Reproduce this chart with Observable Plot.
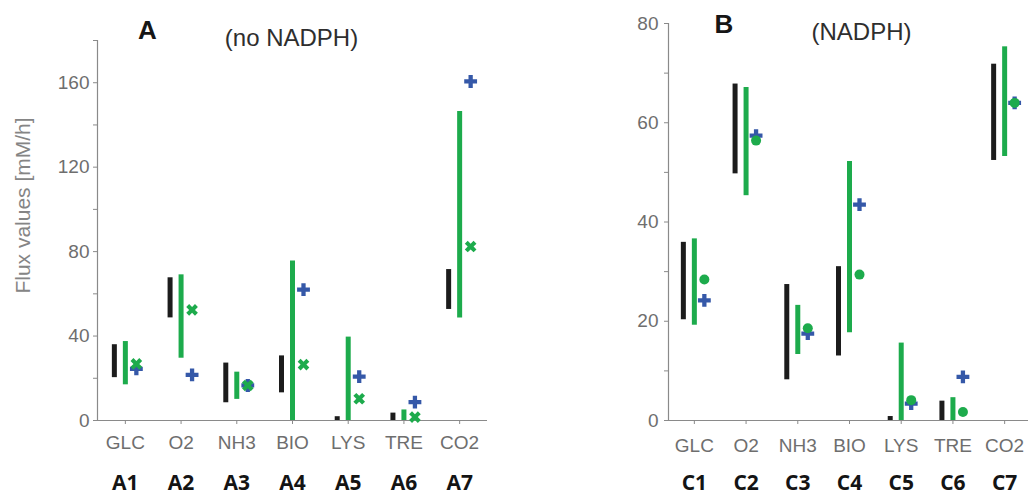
<!DOCTYPE html>
<html>
<head>
<meta charset="utf-8">
<script src="https://cdn.jsdelivr.net/npm/d3@7"></script>
<script src="https://cdn.jsdelivr.net/npm/@observablehq/plot@0.6"></script>
<style>
  html, body { margin: 0; padding: 0; background: #fff; overflow: hidden; }
  #root { position: relative; width: 1028px; height: 495px; overflow: hidden; }
  #root svg { position: absolute; top: 0; overflow: visible; }
</style>
</head>
<body>
<div id="root"></div>
<script>
// ---- data ----
const categories = ["GLC", "O2", "NH3", "BIO", "LYS", "TRE", "CO2"];
const labelsA = ["A1", "A2", "A3", "A4", "A5", "A6", "A7"];
const labelsB = ["C1", "C2", "C3", "C4", "C5", "C6", "C7"];

// Panel A (no NADPH)
const blackLoA = [20.3, 48.6, 8.4, 13.1, 0, 0, 52.6];
const blackHiA = [35.9, 67.6, 27.2, 30.6, 1.8, 3.5, 71.5];
const greenLoA = [16.9, 29.5, 10, 0, 0, 0, 48.6];
const greenHiA = [37.4, 69, 22.9, 75.5, 39.5, 5, 146.4];
const greenPtA = [26.8, 52.4, 16.6, 26.5, 10.3, 1.6, 82.4];
const bluePtA  = [24.5, 21.6, 16.6, 62, 20.8, 8.7, 160.6];

// Panel B (NADPH)
const blackLoB = [20.3, 49.7, 8.2, 13, 0, 0, 52.4];
const blackHiB = [35.9, 67.8, 27.4, 31, 0.8, 3.9, 71.8];
const greenLoB = [19.2, 45.3, 13.3, 17.7, 0, 0, 53.2];
const greenHiB = [36.6, 67.1, 23.2, 52.2, 15.6, 4.6, 75.3];
const greenPtB = [28.4, 56.4, 18.6, 29.4, 4.1, 1.7, 64.0];
const bluePtB  = [24.2, 57.4, 17.5, 43.5, 3.4, 8.8, 64.0];

const BLACK = "#1c1c1c", GREEN = "#1dab4c", BLUE = "#3558a8";
const AXIS = "#8a8a8a", TICKTXT = "#6e6e6e";
const FONT = "'Liberation Sans', Arial, Helvetica, sans-serif";

function rows(bl, bh, gl, gh, gp, bp) {
  return categories.map((c, i) => ({
    i: i + 1, cat: c, blo: bl[i], bhi: bh[i], glo: gl[i], ghi: gh[i], gp: gp[i], bp: bp[i]
  }));
}

function panel(opts) {
  const data = rows(...opts.series);
  return Plot.plot({
    width: opts.width, height: 495,
    marginLeft: opts.ml, marginRight: opts.mr, marginTop: opts.mt, marginBottom: 75,
    x: { domain: [0.5, 7.5] },
    y: { domain: [0, opts.ymax] },
    style: { fontFamily: FONT, fontSize: "19px", color: TICKTXT, background: "transparent", overflow: "visible" },
    marks: [
      Plot.ruleX([0.5], { y1: 0, y2: opts.ymax, stroke: AXIS, strokeWidth: 1.2 }),
      Plot.ruleY([0], { x1: 0.45, x2: 7.5, stroke: AXIS, strokeWidth: 1.2 }),
      Plot.axisY({
        ticks: d3.range(0, opts.ymax + 1, opts.minor),
        tickFormat: d => (d % (2 * opts.minor) === 0 ? String(d) : ""),
        tickSize: 4, tickPadding: opts.ypad, stroke: AXIS, label: null, fontSize: 19
      }),
      Plot.axisX({
        ticks: d3.range(1, 8),
        tickFormat: i => categories[i - 1],
        tickSize: 4, tickPadding: opts.xpad, stroke: AXIS, label: null, fontSize: 19
      }),
      Plot.ruleX(data, { x: "i", y1: "blo", y2: "bhi", dx: -11, stroke: BLACK, strokeWidth: 5 }),
      Plot.ruleX(data, { x: "i", y1: "glo", y2: "ghi", stroke: GREEN, strokeWidth: 5 }),
      Plot.dot(data, { x: "i", y: "bp", dx: opts.mdx, symbol: "cross", r: 5.4, fill: BLUE }),
      Plot.dot(data, { x: "i", y: "gp", dx: opts.mdx, symbol: opts.gsym, r: opts.gr, rotate: opts.grot, fill: GREEN }),
      Plot.text(opts.bottom, {
        x: (d, i) => i + 1, text: d => d, frameAnchor: "bottom", dy: 63,
        lineAnchor: "middle", textAnchor: "middle",
        fontFamily: "'Open Sans', 'Liberation Sans', sans-serif", fontWeight: "bold", fontSize: 21, fill: "#141414"
      }),
      Plot.text([opts.letter], {
        frameAnchor: "top-left", dx: opts.letterDx, dy: opts.letterDy, textAnchor: "middle", lineAnchor: "middle",
        fontWeight: "bold", fontSize: 26, fill: "#161616"
      }),
      Plot.text([opts.title], {
        frameAnchor: "top-left", dx: opts.titleDx, dy: opts.titleDy, textAnchor: "middle", lineAnchor: "middle",
        fontSize: 24, fill: "#2e2e2e"
      }),
      ...(opts.ylabel ? [Plot.text([opts.ylabel], {
        frameAnchor: "left", dx: -74, dy: -25, rotate: -90, textAnchor: "middle", lineAnchor: "middle",
        fontSize: 21, fill: "#858585"
      })] : [])
    ]
  });
}

const root = document.getElementById("root");

const svgA = panel({
  series: [blackLoA, blackHiA, greenLoA, greenHiA, greenPtA, bluePtA],
  width: 510, ml: 97, mr: 23, mt: 40, ymax: 180, minor: 20, ypad: 4, xpad: 11,
  mdx: 11, gsym: "cross", gr: 5.2, grot: 45,
  bottom: labelsA, letter: "A", letterDx: 50, letterDy: -10,
  title: "(no NADPH)", titleDx: 194, titleDy: -2, ylabel: "Flux values [mM/h]"
});
svgA.style.left = "0px";
root.appendChild(svgA);

const svgB = panel({
  series: [blackLoB, blackHiB, greenLoB, greenHiB, greenPtB, bluePtB],
  width: 512, ml: 148, mr: 2, mt: 23, ymax: 80, minor: 10, ypad: 6, xpad: 14,
  mdx: 10, gsym: "circle", gr: 5, grot: 0,
  bottom: labelsB, letter: "B", letterDx: 55.5, letterDy: 1.5,
  title: "(NADPH)", titleDx: 193, titleDy: 9, ylabel: null
});
svgB.style.left = "520px";
root.appendChild(svgB);
</script>
</body>
</html>
